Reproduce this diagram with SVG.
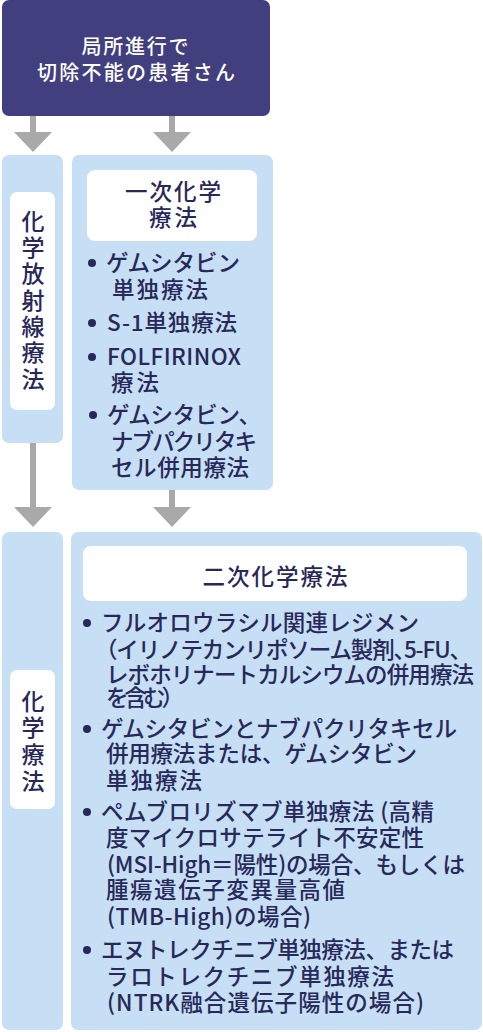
<svg xmlns="http://www.w3.org/2000/svg" width="483" height="1032" viewBox="0 0 483 1032">
<style>
.panel{fill:#c6dff4}
.inner{fill:#ffffff}
.t{font-family:"Noto Sans CJK JP","Noto Sans",sans-serif;fill:#28285a;font-size:22.5px;font-weight:500}
.v{font-family:"Noto Sans CJK JP","Noto Sans",sans-serif;fill:#28285a;font-size:23px;font-weight:500;text-anchor:middle}
.w{font-family:"Noto Sans CJK JP","Noto Sans",sans-serif;fill:#ffffff;font-size:20px;font-weight:500;text-anchor:middle}
.c{text-anchor:middle}
.dot{fill:#28285a}
.arr{fill:#a9a9a9}
</style>
<g id="connectors">
<path class="arr" d="M30 116H36V132H52L33 152L14 132H30Z"/>
<path class="arr" d="M169 116H175V132H191L172 152L153 132H169Z"/>
<path class="arr" d="M30 443H36V507H52L33 527L14 507H30Z"/>
<path class="arr" d="M169 490H175V507H191L172 527L153 507H169Z"/>
</g>
<g id="start">
<rect x="2" y="0" width="268" height="116" rx="7" fill="#413f7e"/>
<text class="w" x="135" y="54" textLength="107" lengthAdjust="spacing">局所進行で</text>
<text class="w" x="136" y="80" textLength="198" lengthAdjust="spacing">切除不能の患者さん</text>
</g>
<g id="chemoradiation">
<rect class="panel" x="2" y="155" width="61" height="288" rx="7"/>
<rect class="inner" x="10" y="192" width="45" height="218" rx="7"/>
<text class="v" x="33" y="230">化</text>
<text class="v" x="33" y="256">学</text>
<text class="v" x="33" y="282">放</text>
<text class="v" x="33" y="309">射</text>
<text class="v" x="33" y="335">線</text>
<text class="v" x="33" y="361">療</text>
<text class="v" x="33" y="388">法</text>
</g>
<g id="first-line">
<rect class="panel" x="72" y="155" width="201" height="335" rx="7"/>
<rect class="inner" x="87" y="170" width="170" height="71" rx="8"/>
<text class="t c" x="173" y="200" textLength="96" lengthAdjust="spacing">一次化学</text>
<text class="t c" x="173" y="226" textLength="48" lengthAdjust="spacing">療法</text>
<circle class="dot" cx="92" cy="263" r="4"/>
<text class="t" x="106" y="271" textLength="134" lengthAdjust="spacing">ゲムシタビン</text>
<text class="t" x="112" y="298" textLength="96" lengthAdjust="spacing">単独療法</text>
<circle class="dot" cx="92" cy="323" r="4"/>
<text class="t" x="107" y="331" textLength="130" lengthAdjust="spacing">S-1単独療法</text>
<circle class="dot" cx="92" cy="357" r="4"/>
<text class="t" x="107" y="365" textLength="134" lengthAdjust="spacing">FOLFIRINOX</text>
<text class="t" x="111" y="391" textLength="48" lengthAdjust="spacing">療法</text>
<circle class="dot" cx="93" cy="415" r="4"/>
<text class="t" x="107" y="423" textLength="154" lengthAdjust="spacing">ゲムシタビン、</text>
<text class="t" x="111" y="450" textLength="146" lengthAdjust="spacing">ナブパクリタキ</text>
<text class="t" x="111" y="476" textLength="138" lengthAdjust="spacing">セル併用療法</text>
</g>
<g id="chemotherapy">
<rect class="panel" x="2" y="532" width="61" height="498" rx="7"/>
<rect class="inner" x="10" y="670" width="45" height="139" rx="7"/>
<text class="v" x="33" y="710">化</text>
<text class="v" x="33" y="736">学</text>
<text class="v" x="33" y="763">療</text>
<text class="v" x="33" y="790">法</text>
</g>
<g id="second-line">
<rect class="panel" x="71" y="532" width="411" height="498" rx="7"/>
<rect class="inner" x="83" y="546" width="384" height="55" rx="8"/>
<text class="t c" x="275" y="585" textLength="145" lengthAdjust="spacing">二次化学療法</text>
<circle class="dot" cx="87" cy="623" r="4"/>
<text class="t" x="101" y="631" textLength="318" lengthAdjust="spacing">フルオロウラシル関連レジメン</text>
<text class="t" x="95" y="658" textLength="377" lengthAdjust="spacing">（イリノテカンリポソーム製剤、<tspan dx="-11">5-FU、</tspan></text>
<text class="t" x="106" y="683" textLength="368" lengthAdjust="spacing">レボホリナートカルシウムの併用療法</text>
<text class="t" x="106" y="706" textLength="78" lengthAdjust="spacing">を含む）</text>
<circle class="dot" cx="87" cy="729" r="4"/>
<text class="t" x="101" y="737" textLength="356" lengthAdjust="spacing">ゲムシタビンとナブパクリタキセル</text>
<text class="t" x="106" y="762" textLength="311" lengthAdjust="spacing">併用療法または、ゲムシタビン</text>
<text class="t" x="106" y="789" textLength="96" lengthAdjust="spacing">単独療法</text>
<circle class="dot" cx="87" cy="812" r="4"/>
<text class="t" x="101" y="820" textLength="333" lengthAdjust="spacing">ペムブロリズマブ単独療法 (高精</text>
<text class="t" x="106" y="846" textLength="318" lengthAdjust="spacing">度マイクロサテライト不安定性</text>
<text class="t" x="107" y="873" textLength="358" lengthAdjust="spacing">(MSI-High＝陽性)の場合、もしくは</text>
<text class="t" x="106" y="898" textLength="239" lengthAdjust="spacing">腫瘍遺伝子変異量高値</text>
<text class="t" x="107" y="925" textLength="204" lengthAdjust="spacing">(TMB-High)の場合)</text>
<circle class="dot" cx="87" cy="950" r="4"/>
<text class="t" x="101" y="958" textLength="353" lengthAdjust="spacing">エヌトレクチニブ単独療法、または</text>
<text class="t" x="106" y="985" textLength="288" lengthAdjust="spacing">ラロトレクチニブ単独療法</text>
<text class="t" x="107" y="1011" textLength="317" lengthAdjust="spacing">(NTRK融合遺伝子陽性の場合)</text>
</g>
</svg>
